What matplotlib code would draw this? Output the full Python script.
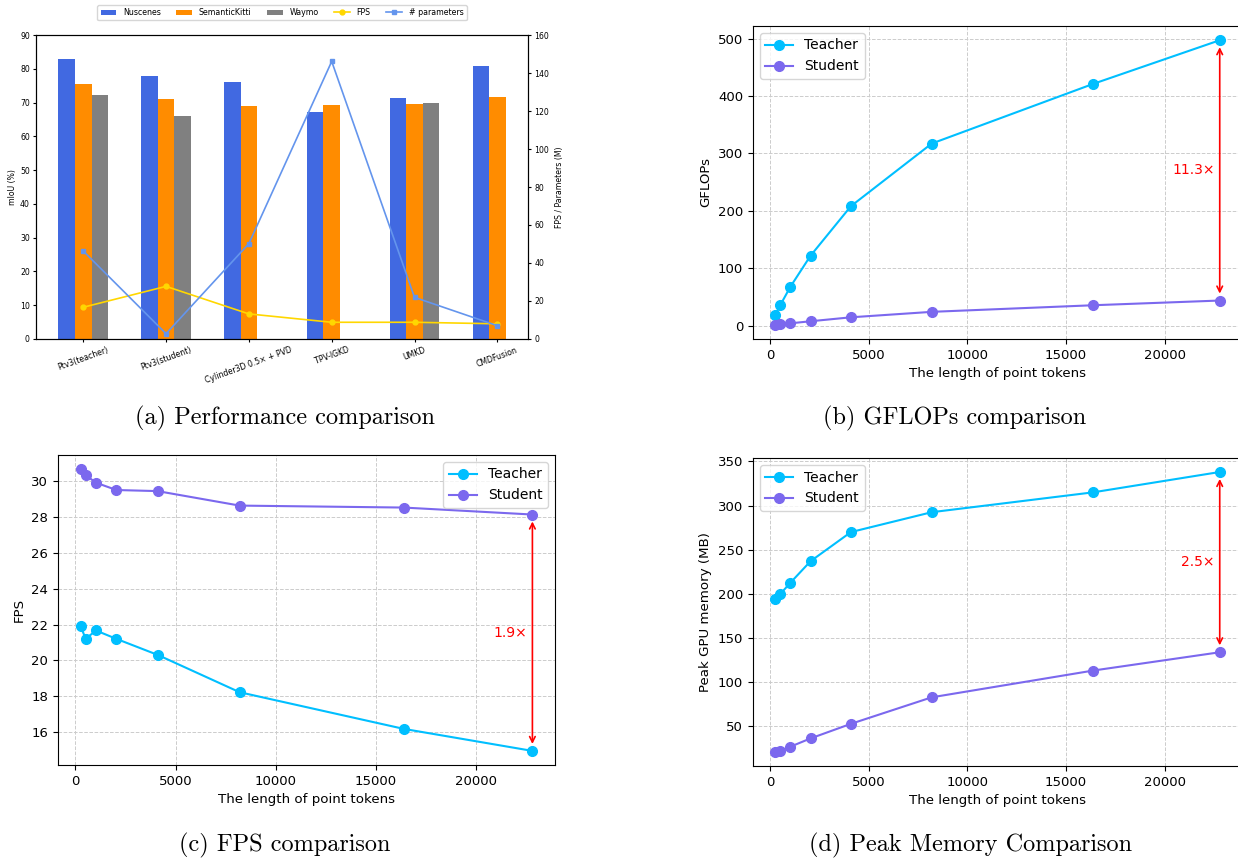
import numpy as np
import matplotlib
matplotlib.use("Agg")
import matplotlib.pyplot as plt

# (a) 性能比較
methods = ["Ptv3(teacher)", "Ptv3(student)", "Cylinder3D 0.5× + PVD", "TPV-IGKD", "UMKD", "CMDFusion"]
nuscenes = [83.0, 78.0, 76.0, 67.2, 71.3, 80.8]
semantic_kitti = [75.5, 71.2, 68.9, 69.3, 69.6, 71.6]
waymo = [72.1, 65.9, np.nan, np.nan, 70.0, np.nan]
fps_a = [16.7, 27.7, 13.2, 8.8, 8.8, 8.0]
params_a = [46.3, 2.8, 50.2, 146.1, 21.9, 7.0]

# (b)(c)(d) トークン長ごとの比較
tokens = [256, 512, 1024, 2048, 4096, 8192, 16384, 22800]
gflops_teacher = [18.6, 35.5, 67.5, 121.7, 208, 317, 421, 497]
gflops_student = [1.5, 2.5, 4.0, 7.6, 14.5, 24.0, 35.5, 43.7]
fps_teacher = [21.93, 21.2, 21.67, 21.2, 20.31, 18.22, 16.17, 14.94]
fps_student = [30.69, 30.35, 29.93, 29.52, 29.46, 28.65, 28.54, 28.15]
mem_teacher = [194.2, 199.8, 212.6, 237, 270, 292.5, 315, 338]
mem_student = [21.1, 22.6, 27.1, 36.5, 53, 83, 113.3, 134]

TEACHER_C = "#00BFFF"
STUDENT_C = "#7B68EE"


def draw_perf(fig):
    ax = fig.add_axes([0.0291, 0.6049, 0.3974, 0.3543])
    x = np.arange(len(methods))
    w = 0.2
    ax.bar(x - w, nuscenes, w, color="royalblue", label="Nuscenes")
    ax.bar(x, semantic_kitti, w, color="darkorange", label="SemanticKitti")
    # Waymo は値のあるものだけ描く
    wx = [xi + w for xi, v in zip(x, waymo) if not np.isnan(v)]
    wv = [v for v in waymo if not np.isnan(v)]
    ax.bar(wx, wv, w, color="gray", label="Waymo")
    ax.set_ylim(0, 90)
    ax.set_xlim(-0.57, 5.37)
    ax.set_xticks(x)
    ax.set_xticklabels(methods, rotation=20, fontsize=5.6)
    ax.tick_params(axis="y", labelsize=5.6, length=2.5, pad=2)
    ax.tick_params(axis="x", length=2.5, pad=2)
    ax.set_ylabel("mIoU (%)", fontsize=5.6, labelpad=2)

    ax2 = ax.twinx()
    ax2.plot(x, fps_a, color="gold", marker="o", markersize=3.5, linewidth=1.2, label="FPS")
    ax2.plot(x, params_a, color="cornflowerblue", marker="s", markersize=3.5, linewidth=1.2, label="# parameters")
    ax2.set_ylim(0, 160)
    ax2.tick_params(axis="y", labelsize=5.6, length=2.5, pad=2)
    ax2.set_ylabel("FPS / Parameters (M)", fontsize=5.6, labelpad=4)

    h1, l1 = ax.get_legend_handles_labels()
    h2, l2 = ax2.get_legend_handles_labels()
    ax.legend(h1 + h2, l1 + l2, loc="lower center", bbox_to_anchor=(0.5, 1.035), ncol=5,
              fontsize=5.7)


def draw_line(fig, rect, teacher, student, ylabel, ratio_text, legend_loc):
    ax = fig.add_axes(rect)
    ax.plot(tokens, teacher, color=TEACHER_C, marker="o", markersize=7, linewidth=1.5, label="Teacher")
    ax.plot(tokens, student, color=STUDENT_C, marker="o", markersize=7, linewidth=1.5, label="Student")
    ax.grid(True, linestyle="--", color="#cccccc", linewidth=0.7)
    ax.set_axisbelow(True)
    ax.set_xlabel("The length of point tokens", fontsize=9.6)
    ax.set_ylabel(ylabel, fontsize=9.6)
    ax.tick_params(labelsize=9.5)
    ax.set_xticks([0, 5000, 10000, 15000, 20000])
    ax.legend(loc=legend_loc, fontsize=10)
    xe = tokens[-1]
    ax.annotate("", xy=(xe, teacher[-1]), xytext=(xe, student[-1]),
                arrowprops=dict(arrowstyle="<->", color="red", lw=1.2, shrinkA=5, shrinkB=5))
    ax.text(xe - 250, (teacher[-1] + student[-1]) / 2, ratio_text, color="red",
            fontsize=10, ha="right", va="center")
    return ax


fig = plt.figure(figsize=(12.38, 8.58), dpi=100)
draw_perf(fig)
draw_line(fig, [0.6082, 0.6049, 0.395, 0.3648], gflops_teacher, gflops_student,
          "GFLOPs", "11.3×", "upper left")
draw_line(fig, [0.0468, 0.1084, 0.4015, 0.3613], fps_teacher, fps_student,
          "FPS", "1.9×", "upper right")
draw_line(fig, [0.6082, 0.1072, 0.395, 0.359], mem_teacher, mem_student,
          "Peak GPU memory (MB)", "2.5×", "upper left")

cap = dict(fontsize=17.5, family="cmr10", ha="center", va="center")
fig.text(285 / 1238, 1 - 418 / 858, "(a) Performance comparison", **cap)
fig.text(955 / 1238, 1 - 418 / 858, "(b) GFLOPs comparison", **cap)
fig.text(285 / 1238, 1 - 845 / 858, "(c) FPS comparison", **cap)
fig.text(971 / 1238, 1 - 845 / 858, "(d) Peak Memory Comparison", **cap)

fig.savefig("out.png", dpi=100)
